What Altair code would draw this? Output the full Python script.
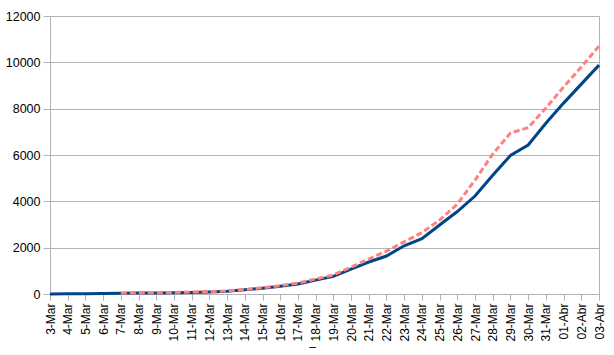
import altair as alt
import pandas as pd

dates = ["3-Mar", "4-Mar", "5-Mar", "6-Mar", "7-Mar", "8-Mar", "9-Mar", "10-Mar",
         "11-Mar", "12-Mar", "13-Mar", "14-Mar", "15-Mar", "16-Mar", "17-Mar",
         "18-Mar", "19-Mar", "20-Mar", "21-Mar", "22-Mar", "23-Mar", "24-Mar",
         "25-Mar", "26-Mar", "27-Mar", "28-Mar", "29-Mar", "30-Mar", "31-Mar",
         "01-Abr", "02-Abr", "03-Abr"]

actual = [5, 10, 15, 20, 30, 40, 45, 55, 70, 90, 120, 180, 250, 330, 430, 600,
          760, 1070, 1380, 1640, 2080, 2390, 2980, 3560, 4230, 5130, 5980, 6430,
          7370, 8240, 9060, 9880]

model = [None, None, None, None, 35, 45, 55, 65, 85, 105, 135, 190, 270, 360,
         470, 650, 820, 1160, 1510, 1850, 2250, 2650, 3190, 3880, 4920, 6040,
         6950, 7180, 8030, 8930, 9800, 10700]

df_a = pd.DataFrame({"fecha": dates, "valor": actual})
df_m = pd.DataFrame({"fecha": dates, "valor": model}).dropna()

x = alt.X("fecha:N", sort=dates, scale=alt.Scale(padding=0),
          axis=alt.Axis(title="_", labelAngle=270, labelFontSize=12,
                        labelFont="Liberation Sans", labelColor="#000000",
                        tickColor="#b3b3b3", tickSize=6, domainColor="#b3b3b3",
                        labelPadding=3, titleFont="Liberation Sans",
                        titleFontSize=12, titleFontWeight="normal",
                        titlePadding=-6, titleX=262, grid=False))
y = alt.Y("valor:Q", scale=alt.Scale(domain=[0, 12000], nice=False),
          axis=alt.Axis(title=None, values=[0, 2000, 4000, 6000, 8000, 10000, 12000],
                        format="d",
                        labelFontSize=12.5, labelFont="Liberation Sans",
                        labelColor="#000000", tickColor="#b3b3b3", tickSize=7,
                        labelPadding=3, domainColor="#b3b3b3",
                        gridColor="#b3b3b3", gridWidth=1))

line_a = alt.Chart(df_a).mark_line(color="#004586", strokeWidth=3).encode(x=x, y=y)
line_m = alt.Chart(df_m).mark_line(color="#ff8080", strokeWidth=3,
                                   strokeDash=[6, 3]).encode(x=x, y=y)

chart = (line_a + line_m).properties(
    width=549, height=278,
    autosize=alt.AutoSizeParams(type="none"),
    padding={"left": 50, "top": 16, "right": 15, "bottom": 61},
    background="#ffffff",
).configure_view(stroke="#b3b3b3", strokeWidth=1)

chart.save("out.html", embed_options={"renderer": "svg", "actions": False})
